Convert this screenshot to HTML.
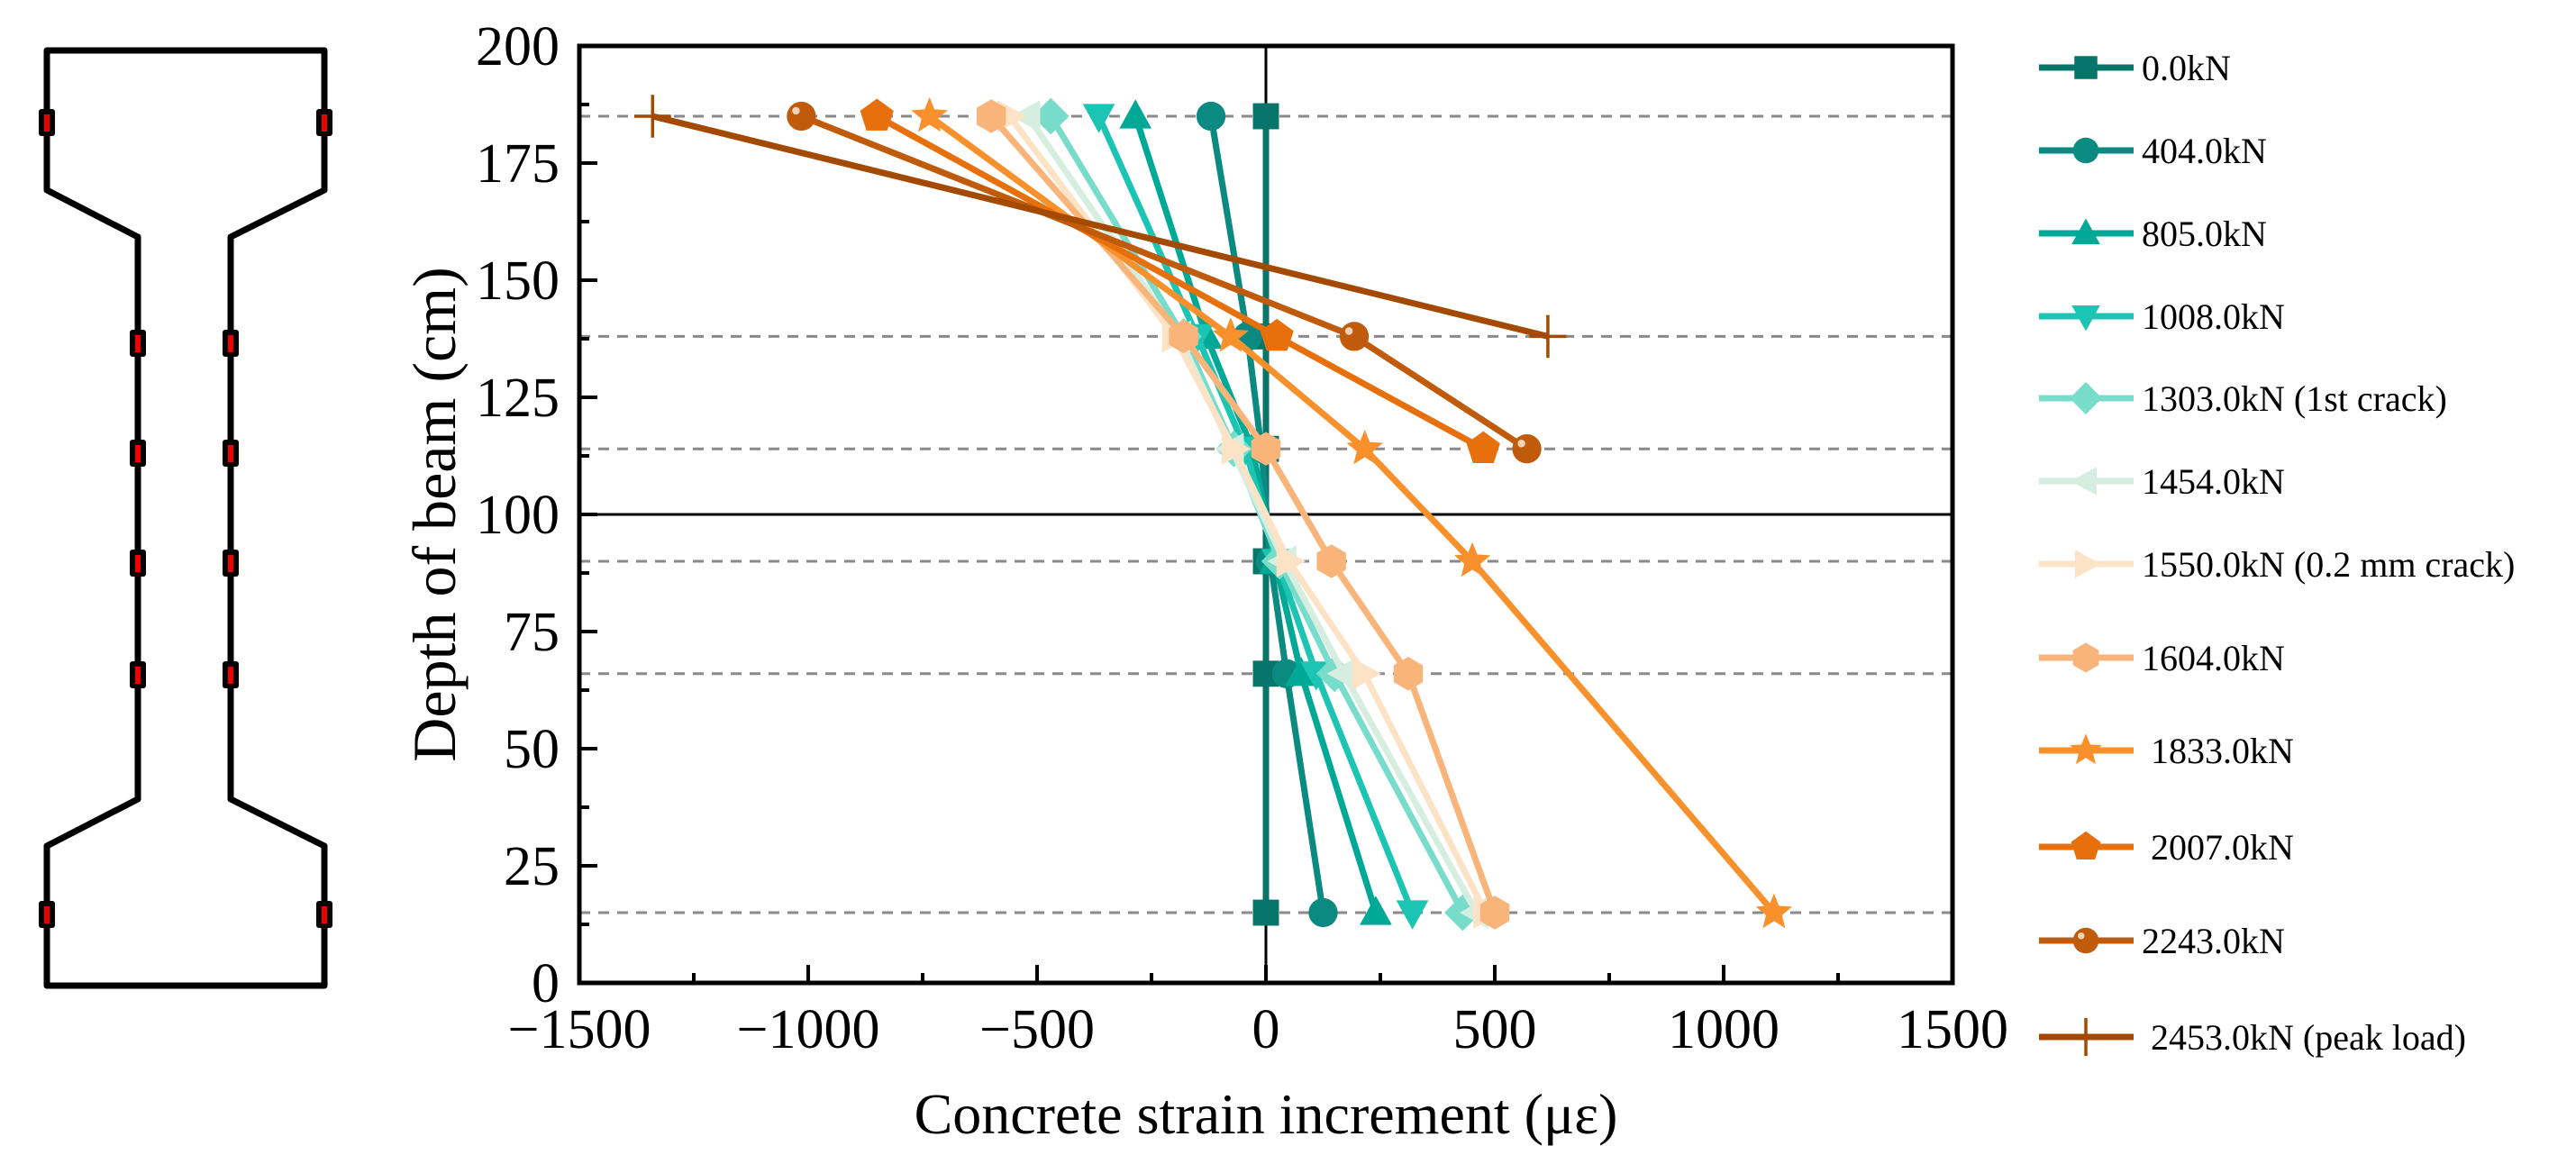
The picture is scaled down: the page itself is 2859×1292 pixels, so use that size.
<!DOCTYPE html>
<html><head><meta charset="utf-8"><style>
html,body{margin:0;padding:0;background:#fff;}
svg{display:block;font-family:"Liberation Serif",serif;}
</style></head><body>
<svg id="chart" width="2859" height="1292" viewBox="0 0 2859 1292" xmlns="http://www.w3.org/2000/svg">
<g id="beam" fill="none" stroke="#000" stroke-width="7" stroke-linejoin="round">
  <path d="M52,56 L360,56 L360,211 L256,263 L256,887 L360,939 L360,1094 L52,1094 L52,939 L153,887 L153,263 L52,211 Z"/>
</g>
<g id="sensors"></g>
<g id="plot"></g>
<g id="legend"></g>
</svg>
<script>
const depths = [185, 138, 114, 90, 66, 15];
const seriesNames = ["0.0kN","404.0kN","805.0kN","1008.0kN","1303.0kN (1st crack)","1454.0kN","1550.0kN (0.2 mm crack)","1604.0kN"," 1833.0kN"," 2007.0kN","2243.0kN"," 2453.0kN (peak load)"];
const s0 = [0, 0, 0, 0, 0, 0];
const s404 = [-120, -40, -10, 10, 45, 125];
const s805 = [-285, -130, -30, 20, 77, 240];
const s1008 = [-365, -150, -45, 25, 110, 320];
const s1303 = [-470, -180, -70, 30, 150, 430];
const s1454 = [-520, -190, -75, 40, 170, 460];
const s1550 = [-560, -200, -70, 50, 215, 480];
const s1604 = [-600, -180, 0, 143, 311, 500];
const s1833 = [-735, -77, 216, 451, null, 1110];
const s2007 = [-850, 24, 475, null, null, null];
const s2243 = [-1015, 193, 570, null, null, null];
const s2453 = [-1340, 616, null, null, null, null];
const allSeries = [s0,s404,s805,s1008,s1303,s1454,s1550,s1604,s1833,s2007,s2243,s2453];
const xTicks = [-1500, -1000, -500, 0, 500, 1000, 1500];
const xTickLabels = ["\u22121500","\u22121000","\u2212500","0","500","1000","1500"];
const yTicks = [0, 25, 50, 75, 100, 125, 150, 175, 200];
const colors = ["#07756a","#0a8a80","#00a896","#1cc4b4","#78dccb","#d5eedf","#fde3c6","#f9b47a","#f8902c","#e76f0c","#bf5b0b","#a44a00"];
const shapes = ["square","circle","triangle","tridown","diamond","tleft","tright","hexagon","star","pentagon","ball","plus"];

const L=643, R=2167, T=51, B=1091;
const X = v => L + (v + 1500) / 3000 * (R - L);
const Y = v => B - v / 200 * (B - T);
const NS="http://www.w3.org/2000/svg";
const plot=document.getElementById('plot');
function mk(tag, attrs, parent){const e=document.createElementNS(NS,tag);for(const k in attrs)e.setAttribute(k,attrs[k]);(parent||plot).appendChild(e);return e;}

const sens = document.getElementById('sensors');
[[52,136],[360,136],[153,381],[256,381],[153,503],[256,503],[153,625],[256,625],[153,749],[256,749],[52,1015],[360,1015]].forEach(p=>{
  const g=mk('g',{},sens);
  
  
  mk('rect',{x:p[0]-9,y:p[1]-15,width:18,height:30,rx:3,fill:'#000'},g);
  mk('rect',{x:p[0]-3,y:p[1]-9,width:6,height:19,fill:'#e00'},g);
});

depths.forEach(d=>{
  const l=mk('line',{x1:L,x2:R,y1:Y(d),y2:Y(d),stroke:'#8a8a8a','stroke-width':3,'stroke-dasharray':'12,9'});
  
  
});
let zl=mk('line',{x1:X(0),x2:X(0),y1:T,y2:B,stroke:'#000','stroke-width':3});


let nl=mk('line',{x1:L,x2:R,y1:Y(100),y2:Y(100),stroke:'#000','stroke-width':3});



function marker(shape,cx,cy,r,color,parent){
  let e;
  const poly=(pts)=>mk('polygon',{points:pts.map(p=>p.join(',')).join(' '),fill:color},parent);
  if(shape==='square') e=mk('rect',{x:cx-r*0.85,y:cy-r*0.85,width:r*1.7,height:r*1.7,fill:color},parent);
  else if(shape==='circle') e=mk('circle',{cx,cy,r:r*0.95,fill:color},parent);
  else if(shape==='ball'){e=mk('circle',{cx,cy,r:r*0.95,fill:color},parent);mk('circle',{cx:cx-r*0.35,cy:cy-r*0.35,r:r*0.25,fill:'#f3d3b8'},parent);}
  else if(shape==='triangle') e=poly([[cx,cy-r*1.1],[cx+r*1.05,cy+r*0.8],[cx-r*1.05,cy+r*0.8]]);
  else if(shape==='tridown') e=poly([[cx,cy+r*1.1],[cx+r*1.05,cy-r*0.8],[cx-r*1.05,cy-r*0.8]]);
  else if(shape==='tleft') e=poly([[cx-r*1.1,cy],[cx+r*0.8,cy-r*1.05],[cx+r*0.8,cy+r*1.05]]);
  else if(shape==='tright') e=poly([[cx+r*1.1,cy],[cx-r*0.8,cy-r*1.05],[cx-r*0.8,cy+r*1.05]]);
  else if(shape==='diamond') e=poly([[cx,cy-r*1.2],[cx+r*1.2,cy],[cx,cy+r*1.2],[cx-r*1.2,cy]]);
  else if(shape==='hexagon'){const p=[];for(let i=0;i<6;i++){const a=Math.PI/3*i+Math.PI/6;p.push([cx+r*1.1*Math.cos(a),cy+r*1.1*Math.sin(a)]);}e=poly(p);}
  else if(shape==='pentagon'){const p=[];for(let i=0;i<5;i++){const a=-Math.PI/2+2*Math.PI/5*i;p.push([cx+r*1.15*Math.cos(a),cy+r*1.15*Math.sin(a)]);}e=poly(p);}
  else if(shape==='star'){const p=[];for(let i=0;i<10;i++){const a=-Math.PI/2+Math.PI/5*i;const rr=i%2?r*0.55:r*1.25;p.push([cx+rr*Math.cos(a),cy+rr*Math.sin(a)]);}e=poly(p);}
  else if(shape==='plus'){e=mk('path',{d:`M${cx-r*1.2},${cy}H${cx+r*1.2}M${cx},${cy-r*1.4}V${cy+r*1.4}`,stroke:color,'stroke-width':3.5,fill:'none'},parent);}
  return e;
}

allSeries.forEach((s,i)=>{
  const g=mk('g',{});
  
  
  const pts=[];
  s.forEach((v,j)=>{ if(v!==null) pts.push([X(v),Y(depths[j])]); });
  const pl=mk('polyline',{points:pts.map(p=>p.join(',')).join(' '),fill:'none',stroke:colors[i],'stroke-width':7,'stroke-linejoin':'round'},g);
  
  
  pts.forEach(p=>{
    const m=marker(shapes[i],p[0],p[1],17,colors[i],g);
    
    
  });
});

const frame=mk('rect',{x:L,y:T,width:R-L,height:B-T,fill:'none',stroke:'#000','stroke-width':5});



yTicks.forEach(v=>{
  const t=mk('line',{x1:L,x2:L+20,y1:Y(v),y2:Y(v),stroke:'#000','stroke-width':4});
  
  
  const tx=mk('text',{x:L-22,y:Y(v)+21,'font-size':62,'text-anchor':'end',fill:'#000'});
  tx.textContent=v;
  
  
  if(v<200){const m=mk('line',{x1:L,x2:L+11,y1:Y(v+12.5),y2:Y(v+12.5),stroke:'#000','stroke-width':4});
  
  }
});
xTicks.forEach((v,i)=>{
  const t=mk('line',{x1:X(v),x2:X(v),y1:B,y2:B-20,stroke:'#000','stroke-width':4});
  
  
  const tx=mk('text',{x:X(v),y:B+72,'font-size':62,'text-anchor':'middle',fill:'#000'});
  tx.textContent=xTickLabels[i];
  
  
  if(v<1500){const m=mk('line',{x1:X(v+250),x2:X(v+250),y1:B,y2:B-11,stroke:'#000','stroke-width':4});
  
  }
});
const xt=mk('text',{x:(L+R)/2,y:1258,'font-size':64,'text-anchor':'middle',fill:'#000'});
xt.textContent='Concrete strain increment (\u03bc\u03b5)';


const yt=mk('text',{x:0,y:0,'font-size':68,'text-anchor':'middle',fill:'#000',transform:`translate(505,${(T+B)/2}) rotate(-90)`});
yt.textContent='Depth of beam (cm)';



const leg=document.getElementById('legend');
const legY=[75,167,259,351,442,534,626,730,833,940,1044,1151];
seriesNames.forEach((n,i)=>{
  const g=mk('g',{},leg);
  
  
  const y=legY[i];
  mk('line',{x1:2263,x2:2368,y1:y,y2:y,stroke:colors[i],'stroke-width':7},g);
  marker(shapes[i],2315,y,15,colors[i],g);
  const t=mk('text',{x:2377,y:y+14,'font-size':40,fill:'#000'},g);
  t.setAttribute('style','white-space:pre');
  t.textContent=n;
  
  
});
</script>
</body></html>
